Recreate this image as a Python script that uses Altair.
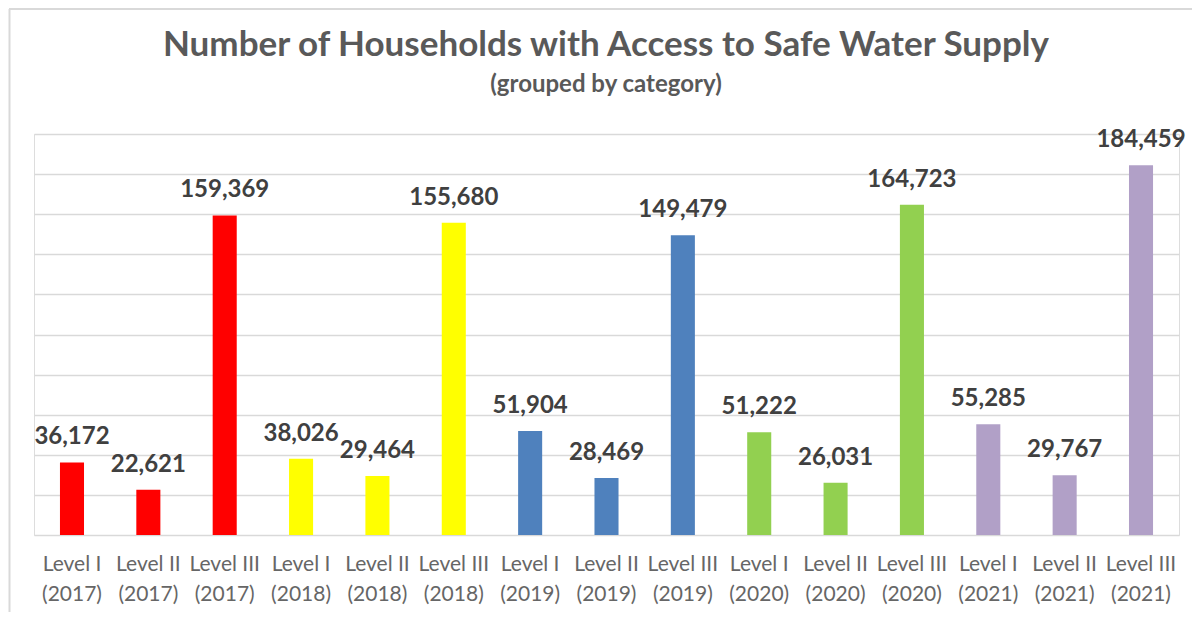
import altair as alt
import pandas as pd

categories = ["Level I", "Level II", "Level III"] * 5
years = ["2017"] * 3 + ["2018"] * 3 + ["2019"] * 3 + ["2020"] * 3 + ["2021"] * 3
values = [36172, 22621, 159369,
          38026, 29464, 155680,
          51904, 28469, 149479,
          51222, 26031, 164723,
          55285, 29767, 184459]
year_order = ["2017", "2018", "2019", "2020", "2021"]
year_colors = ["#FF0000", "#FFFF00", "#4F81BD", "#92D050", "#B1A0C7"]
title_text = "Number of Households with Access to Safe Water Supply"
subtitle_text = "(grouped by category)"

df = pd.DataFrame({
    "cat": [f"{c}|({y})" for c, y in zip(categories, years)],
    "year": years,
    "value": values,
})
order = list(df["cat"])

FONT = "Lato"
TXT = "#595959"

x_enc = alt.X("cat:N", sort=order, title=None,
              scale=alt.Scale(paddingInner=0.685, paddingOuter=0.34),
              axis=alt.Axis(labelExpr="split(datum.label, '|')", labelAngle=0,
                            labelFont=FONT, labelFontSize=21, labelColor="#666666",
                            labelLineHeight=30, labelPadding=18,
                            ticks=False, domain=False, grid=False,
                            labelBaseline="top"))
y_enc = alt.Y("value:Q", title=None,
              scale=alt.Scale(domain=[0, 200000], nice=False),
              axis=alt.Axis(values=list(range(0, 200001, 20000)), labels=False,
                            ticks=False, domain=False, grid=True,
                            gridColor="#D9D9D9", gridWidth=1.5))

base = alt.Chart(df)
bars = base.mark_bar().encode(
    x=x_enc, y=y_enc,
    color=alt.Color("year:N", scale=alt.Scale(domain=year_order, range=year_colors), legend=None),
)
labels = base.mark_text(font=FONT, fontSize=24, fontWeight="bold", color="#404040",
                        baseline="middle", dy=-25).encode(
    x=alt.X("cat:N", sort=order),
    y=alt.Y("value:Q"),
    text=alt.Text("value:Q", format=","),
)

one = alt.Data(values=[{"a": 1}])
top_border = alt.Chart(one).mark_rule(color="#D9D9D9", strokeWidth=2).encode(
    x=alt.value(-25), x2=alt.value(1158), y=alt.value(-125))
left_border = alt.Chart(one).mark_rule(color="#D9D9D9", strokeWidth=2).encode(
    x=alt.value(-24.5), y=alt.value(-125), y2=alt.value(478))
title_mark = alt.Chart(one).mark_text(
    text=title_text, font=FONT, fontSize=35, fontWeight="bold", color=TXT,
    align="center", baseline="alphabetic").encode(x=alt.value(572), y=alt.value(-78))
subtitle_mark = alt.Chart(one).mark_text(
    text=subtitle_text, font=FONT, fontSize=24, fontWeight="bold", color=TXT,
    align="center", baseline="alphabetic").encode(x=alt.value(572), y=alt.value(-42))

chart = alt.layer(top_border, left_border, title_mark, subtitle_mark, bars, labels).properties(
    width=1145, height=401,
    padding={"left": 0, "top": 0, "right": 0, "bottom": 0},
).configure_view(stroke=None).configure(background="white")

chart.save("out.html", embed_options={"renderer": "svg", "actions": False})
